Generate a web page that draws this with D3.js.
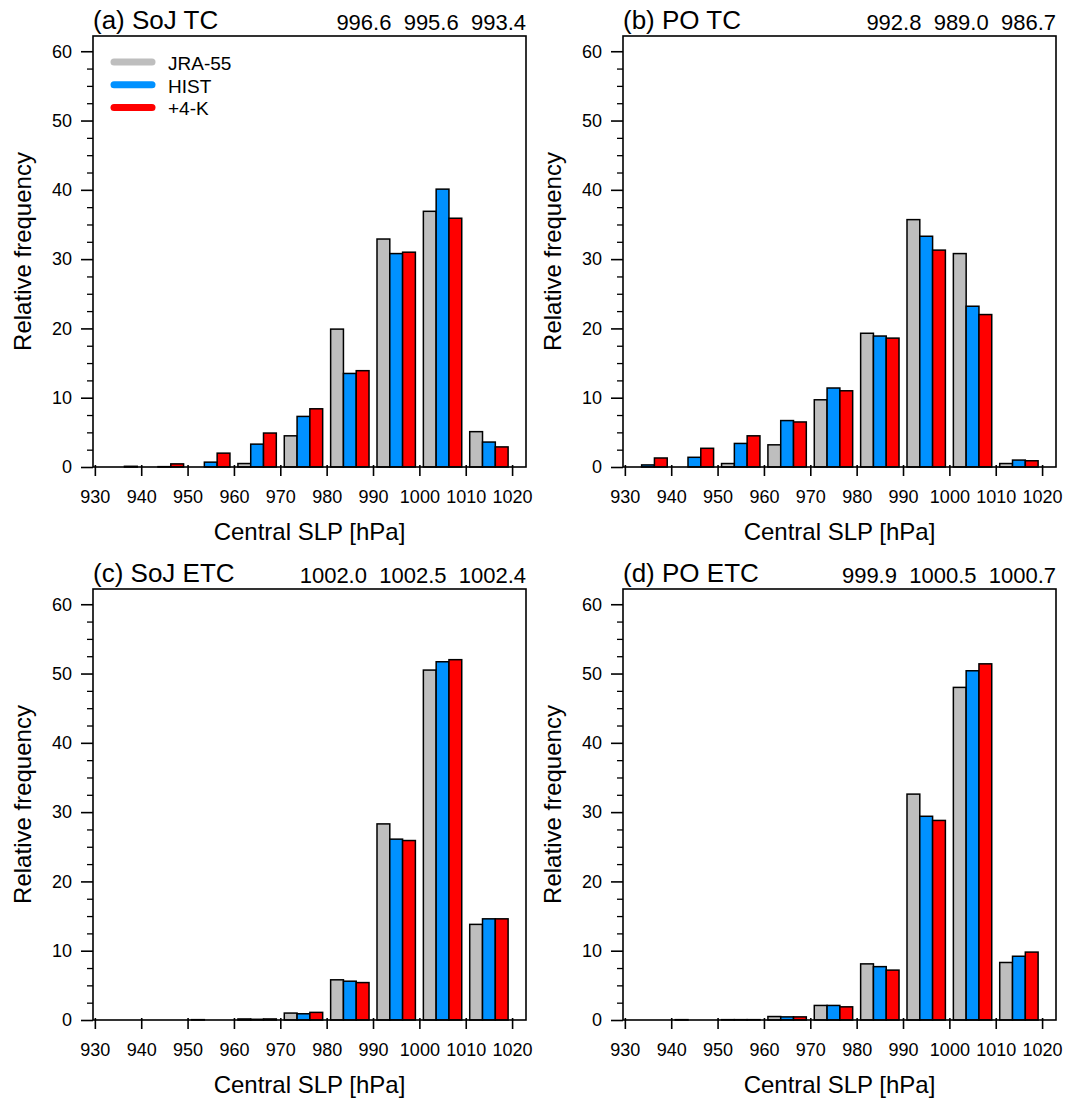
<!DOCTYPE html>
<html>
<head>
<meta charset="utf-8">
<script src="https://cdn.jsdelivr.net/npm/d3@7"></script>
<style>
  html, body { margin: 0; padding: 0; background: #fff; }
  svg { display: block; font-family: "Liberation Sans", Arial, Helvetica, sans-serif; }
</style>
</head>
<body>
<svg id="chart" width="1068" height="1099"></svg>
<script>
// ---- Data ----
const bins = [930, 940, 950, 960, 970, 980, 990, 1000, 1010];
const xTicks = [930, 940, 950, 960, 970, 980, 990, 1000, 1010, 1020];
const yTicks = [0, 10, 20, 30, 40, 50, 60];
const seriesNames = ["JRA-55", "HIST", "+4-K"];
const seriesColors = ["#bebebe", "#0091ff", "#ff0000"];

const sojTC_JRA  = [0, 0, 0, 0.5, 4.5, 19.9, 32.9, 36.9, 5.1];
const sojTC_HIST = [0, 0.05, 0.7, 3.3, 7.3, 13.5, 30.8, 40.1, 3.6];
const sojTC_4K   = [0.1, 0.45, 2.0, 4.9, 8.4, 13.9, 31.0, 35.9, 2.9];

const poTC_JRA  = [0, 0, 0.5, 3.2, 9.7, 19.3, 35.7, 30.8, 0.5];
const poTC_HIST = [0.3, 1.4, 3.4, 6.7, 11.4, 18.9, 33.3, 23.2, 1.0];
const poTC_4K   = [1.3, 2.7, 4.5, 6.5, 11.0, 18.6, 31.3, 22.0, 0.9];

const sojETC_JRA  = [0, 0, 0.05, 0.15, 1.0, 5.8, 28.3, 50.5, 13.8];
const sojETC_HIST = [0, 0, 0, 0.1, 0.9, 5.6, 26.1, 51.7, 14.6];
const sojETC_4K   = [0, 0, 0, 0.15, 1.1, 5.4, 25.9, 52.0, 14.6];

const poETC_JRA  = [0, 0.05, 0.05, 0.5, 2.1, 8.1, 32.6, 48.0, 8.3];
const poETC_HIST = [0, 0, 0.05, 0.45, 2.1, 7.7, 29.4, 50.4, 9.2];
const poETC_4K   = [0, 0, 0.05, 0.45, 1.9, 7.2, 28.8, 51.4, 9.8];

const panelTitles = ["(a) SoJ TC", "(b) PO TC", "(c) SoJ ETC", "(d) PO ETC"];
const panelMeans = ["996.6  995.6  993.4", "992.8  989.0  986.7", "1002.0  1002.5  1002.4", "999.9  1000.5  1000.7"];
const panelData = [
  [sojTC_JRA, sojTC_HIST, sojTC_4K],
  [poTC_JRA, poTC_HIST, poTC_4K],
  [sojETC_JRA, sojETC_HIST, sojETC_4K],
  [poETC_JRA, poETC_HIST, poETC_4K]
];

// ---- Layout ----
const frames = [
  {x0: 93, x1: 526, y0: 36, y1: 467},
  {x0: 623, x1: 1056, y0: 36, y1: 467},
  {x0: 93, x1: 526, y0: 589, y1: 1020},
  {x0: 623, x1: 1056, y0: 589, y1: 1020}
];
const barW = 2.76;

const svg = d3.select("#chart");

frames.forEach((f, p) => {
  const x = d3.scaleLinear().domain([929.6, 1023]).range([f.x0, f.x1]);
  const y = d3.scaleLinear().domain([0, 62.2]).range([f.y1, f.y0]);
  const g = svg.append("g");

  // bars
  panelData[p].forEach((vals, s) => {
    g.selectAll(null)
      .data(bins.map((b, i) => ({b, v: vals[i]})).filter(d => d.v > 0))
      .enter().append("rect")
      .attr("x", d => x(d.b + 5 + (s - 1) * barW - barW / 2))
      .attr("width", d => x(d.b + barW) - x(d.b))
      .attr("y", d => y(d.v))
      .attr("height", d => y(0) - y(d.v))
      .attr("fill", seriesColors[s])
      .attr("stroke", "#000")
      .attr("stroke-width", 1.5);
  });

  // frame
  g.append("rect")
    .attr("x", f.x0).attr("y", f.y0)
    .attr("width", f.x1 - f.x0).attr("height", f.y1 - f.y0)
    .attr("fill", "none").attr("stroke", "#000").attr("stroke-width", 1.6);

  // x axis
  const xAxis = d3.axisBottom(x).tickValues(xTicks).tickSize(9).tickPadding(14).tickFormat(d3.format("d"));
  const xa = g.append("g").attr("transform", `translate(0,${f.y1})`).call(xAxis);
  xa.select(".domain").remove();
  xa.selectAll(".tick line").attr("stroke", "#000").attr("stroke-width", 1.6).attr("y1", -2);
  xa.selectAll(".tick text").attr("font-size", 18).attr("font-family", "Liberation Sans, Arial, sans-serif").attr("fill", "#000");

  // y axis minor
  const minor = d3.range(0, 62.2, 2.5).filter(v => v % 10 !== 0);
  const yMinor = d3.axisLeft(y).tickValues(minor).tickSize(6).tickFormat("");
  const ym = g.append("g").attr("transform", `translate(${f.x0},0)`).call(yMinor);
  ym.select(".domain").remove();
  ym.selectAll(".tick line").attr("stroke", "#000").attr("stroke-width", 1.3);

  // y axis major
  const yAxis = d3.axisLeft(y).tickValues(yTicks).tickSize(12).tickPadding(9).tickFormat(d3.format("d"));
  const ya = g.append("g").attr("transform", `translate(${f.x0},0)`).call(yAxis);
  ya.select(".domain").remove();
  ya.selectAll(".tick line").attr("stroke", "#000").attr("stroke-width", 1.6);
  ya.selectAll(".tick text").attr("font-size", 18).attr("font-family", "Liberation Sans, Arial, sans-serif").attr("fill", "#000");

  // axis titles
  g.append("text")
    .attr("x", (f.x0 + f.x1) / 2).attr("y", f.y1 + 73)
    .attr("text-anchor", "middle").attr("font-size", 24)
    .text("Central SLP [hPa]");
  g.append("text")
    .attr("transform", `translate(${f.x0 - 62},${(f.y0 + f.y1) / 2}) rotate(-90)`)
    .attr("text-anchor", "middle").attr("font-size", 24)
    .text("Relative frequency");

  // panel title + means
  g.append("text")
    .attr("x", f.x0).attr("y", f.y0 - 7)
    .attr("font-size", 26)
    .text(panelTitles[p]);
  g.append("text")
    .attr("x", f.x1).attr("y", f.y0 - 6)
    .attr("text-anchor", "end").attr("font-size", 22)
    .style("white-space", "pre")
    .text(panelMeans[p]);

  // legend in panel (a)
  if (p === 0) {
    seriesNames.forEach((name, s) => {
      const ly = f.y0 + 26 + s * 22.7;
      g.append("line")
        .attr("x1", f.x0 + 21).attr("x2", f.x0 + 59)
        .attr("y1", ly).attr("y2", ly)
        .attr("stroke", seriesColors[s]).attr("stroke-width", 7)
        .attr("stroke-linecap", "round");
      g.append("text")
        .attr("x", f.x0 + 75).attr("y", ly + 8)
        .attr("font-size", 19)
        .text(name);
    });
  }
});
</script>
</body>
</html>
